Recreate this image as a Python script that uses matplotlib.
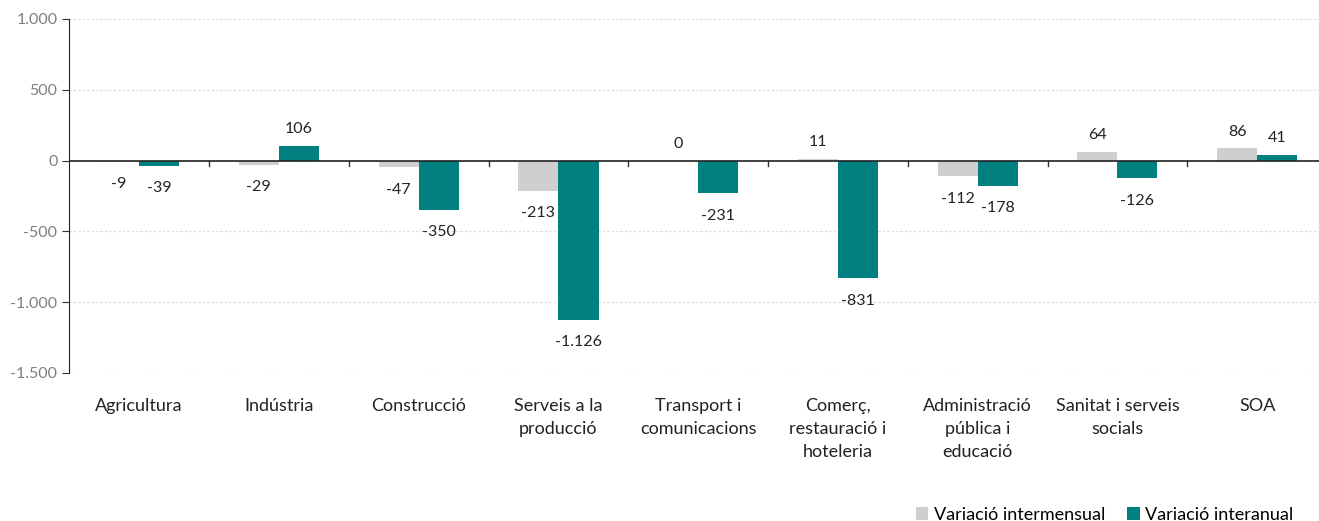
import numpy as np
import matplotlib.pyplot as plt
from matplotlib.ticker import FuncFormatter

categories = ['Agricultura', 'Indústria', 'Construcció', 'Serveis a la\nproducció',
              'Transport i\ncomunicacions', 'Comerç,\nrestauració i\nhoteleria',
              'Administració\npública i\neducació', 'Sanitat i serveis\nsocials', 'SOA']
intermensual = [-9, -29, -47, -213, 0, 11, -112, 64, 86]
interanual = [-39, 106, -350, -1126, -231, -831, -178, -126, 41]

plt.rcParams['font.family'] = ['Lato', 'DejaVu Sans']

fig = plt.figure(figsize=(13.19, 5.21), dpi=100)
ax = fig.add_axes([69.3 / 1319, 1 - 373 / 521, (1327 - 69.3) / 1319, 354 / 521])

x = np.arange(len(categories))
w = 0.287
b1 = ax.bar(x - w / 2, intermensual, w, color='#d0cfcf', label='Variació intermensual')
b2 = ax.bar(x + w / 2, interanual, w, color='#008080', label='Variació interanual')

def fmt(v):
    return f'{v:,.0f}'.replace(',', '.')

for bars, vals in ((b1, intermensual), (b2, interanual)):
    for rect, v in zip(bars, vals):
        cx = rect.get_x() + rect.get_width() / 2
        if v >= 0:
            ax.annotate(fmt(v), (cx, v), xytext=(0, 7), textcoords='offset points',
                        ha='center', va='bottom', fontsize=11.5, color='#222222')
        else:
            ax.annotate(fmt(v), (cx, v), xytext=(0, -11), textcoords='offset points',
                        ha='center', va='top', fontsize=11.5, color='#222222')

ax.set_xlim(-0.5, len(categories) - 0.5)
ax.set_ylim(-1500, 1000)
ax.set_yticks(range(-1500, 1001, 500))
ax.yaxis.set_major_formatter(FuncFormatter(lambda v, p: fmt(v)))
ax.tick_params(axis='y', labelsize=11.5, labelcolor='#7f7f7f', length=5, color='#333333')
ax.yaxis.grid(True, linestyle=(0, (2, 2)), color='#d9d9d9', linewidth=0.8)
ax.set_axisbelow(True)

ax.set_xticks(x)
ax.set_xticklabels(categories, fontsize=13, color='#222222', linespacing=1.55, va='top')
ax.tick_params(axis='x', length=0, pad=18)
for xb in np.arange(0.5, len(categories) - 0.5):
    ax.plot([xb, xb], [0, -35], color='#333333', linewidth=1, zorder=3)

ax.axhline(0, color='#222222', linewidth=1.2, zorder=3)
for s in ('top', 'right', 'bottom'):
    ax.spines[s].set_visible(False)
ax.spines['left'].set_color('#222222')

leg = ax.legend(loc='lower right', bbox_to_anchor=(1304 / 1319, -0.024), bbox_transform=fig.transFigure,
                ncol=2, frameon=False, fontsize=13, handlelength=0.7, handleheight=0.7,
                handletextpad=0.3, columnspacing=1.2, borderpad=0.1)

fig.savefig('out.png', dpi=100)
